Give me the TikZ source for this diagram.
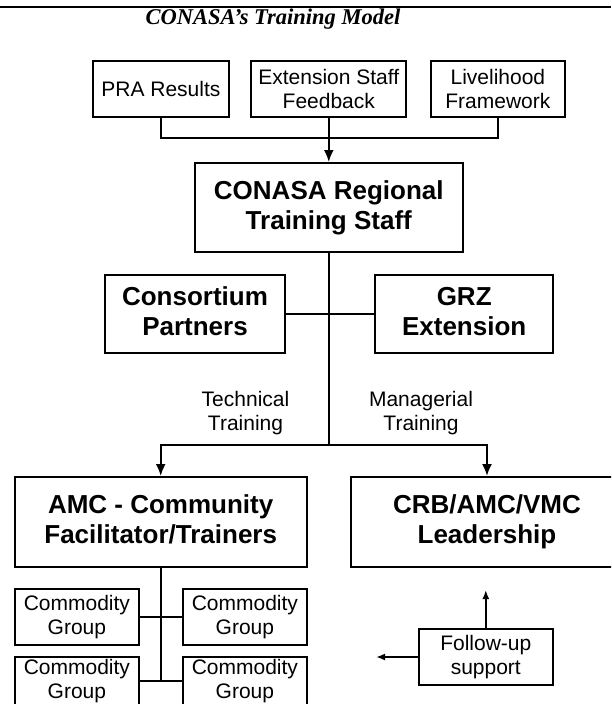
\documentclass[tikz,border=0pt]{standalone}
\usepackage{fontspec}
\setmainfont{Liberation Sans}
\newfontfamily\titlefont{Liberation Serif}
\usepackage{tikz}
\usetikzlibrary{arrows.meta,calc,positioning}
\tikzset{%
	smallbox/.style = {draw, rectangle, line width=2pt, inner sep=0pt, align=center, font=\fontsize{21}{24}\selectfont},
	bigbox/.style   = {draw, rectangle, line width=2pt, inner sep=0pt, align=center, font=\fontsize{26}{30}\selectfont\bfseries, execute at end node=\vphantom{p}},
	tag/.style      = {inner sep=0pt, align=center, font=\fontsize{21}{24}\selectfont},
	link/.style     = {line width=2pt},
	waypoint/.style = {coordinate},
}

\begin{document}
\begin{tikzpicture}[x=1pt,y=-1pt,>={Latex[length=12pt,width=10pt]}]
	\useasboundingbox (0,0) rectangle (611,704);
	\clip (0,0) rectangle (611,704);
	% page rule and title
	\coordinate (rl) at (0,7);
	\coordinate (rr) at (611,7);
	\draw[line width=2pt] (rl) -- (rr);
	\node (title) at (273,19.5) {\titlefont\bfseries\itshape\fontsize{22.5}{26}\selectfont CONASA’s Training Model};
	
	% inputs
	\node [smallbox, minimum width=136pt, minimum height=56pt] (pra) at (160.9,88.7) {PRA Results};
	\node [smallbox, minimum width=155pt, minimum height=56pt] (esf) at (328.8,88.7) {Extension Staff\\Feedback};
	\node [smallbox, minimum width=134pt, minimum height=56pt] (lf) at (497.9,88.7) {Livelihood\\Framework};
	\node [bigbox, minimum width=268pt, minimum height=89pt] (rts) at (328.8,207.5) {CONASA Regional\\Training Staff};
	\node [bigbox, minimum width=180pt, minimum height=78pt] (cp) at (195,313.9) {Consortium\\Partners};
	\node [bigbox, minimum width=178pt, minimum height=78pt] (grz) at (464.2,313.9) {GRZ\\Extension};
	\node [tag] (tt) at (245.5,413) {Technical\\Training};
	\node [tag] (mt) at (421,413) {Managerial\\Training};
	\node [bigbox, minimum width=292pt, minimum height=90pt] (amc) at (160.7,522) {AMC - Community\\Facilitator/Trainers};
	\node [bigbox, minimum width=272pt, minimum height=90pt] (crb) at (487,522) {CRB/AMC/VMC\\Leadership};
	\node [smallbox, minimum width=124pt, minimum height=56pt] (cg1) at (76.9,617) {Commodity\\Group};
	\node [smallbox, minimum width=124pt, minimum height=56pt] (cg2) at (244.9,617) {Commodity\\Group};
	\node [smallbox, minimum width=124pt, minimum height=48pt] (cg3) at (76.9,681) {Commodity\\Group};
	\node [smallbox, minimum width=124pt, minimum height=48pt] (cg4) at (244.9,681) {Commodity\\Group};
	\node [smallbox, minimum width=134pt, minimum height=56pt] (fus) at (485.8,657) {Follow-up\\support};
	
	\node [waypoint] (merge) at (328.8,138) {};
	\node [waypoint] (split) at (328.8,445) {};
	\node [waypoint] (cgend) at (160.7,681) {};
	\node [waypoint] (fusup) at (485.8,590) {};
	\node [waypoint] (fusleft) at (376,657) {};
	
	\draw[link] (pra) |- (merge) -| (lf);
	\draw[link,->] (esf) -- (rts);
	\draw[link] (rts) -- (split);
	\draw[link] (cp) -- (grz);
	\draw[link,->] (split) -| (amc);
	\draw[link,->] (split) -| (crb);
	\draw[link] (amc) -- (cgend);
	\draw[link] (cg1) -- (cg2);
	\draw[link] (cg3) -- (cg4);
	\draw[link,->,>={Latex[length=9pt,width=7pt]}] (fus) -- (fusup);
	\draw[link,->,>={Latex[length=9pt,width=7pt]}] (fus) -- (fusleft);
\end{tikzpicture}
\end{document}
